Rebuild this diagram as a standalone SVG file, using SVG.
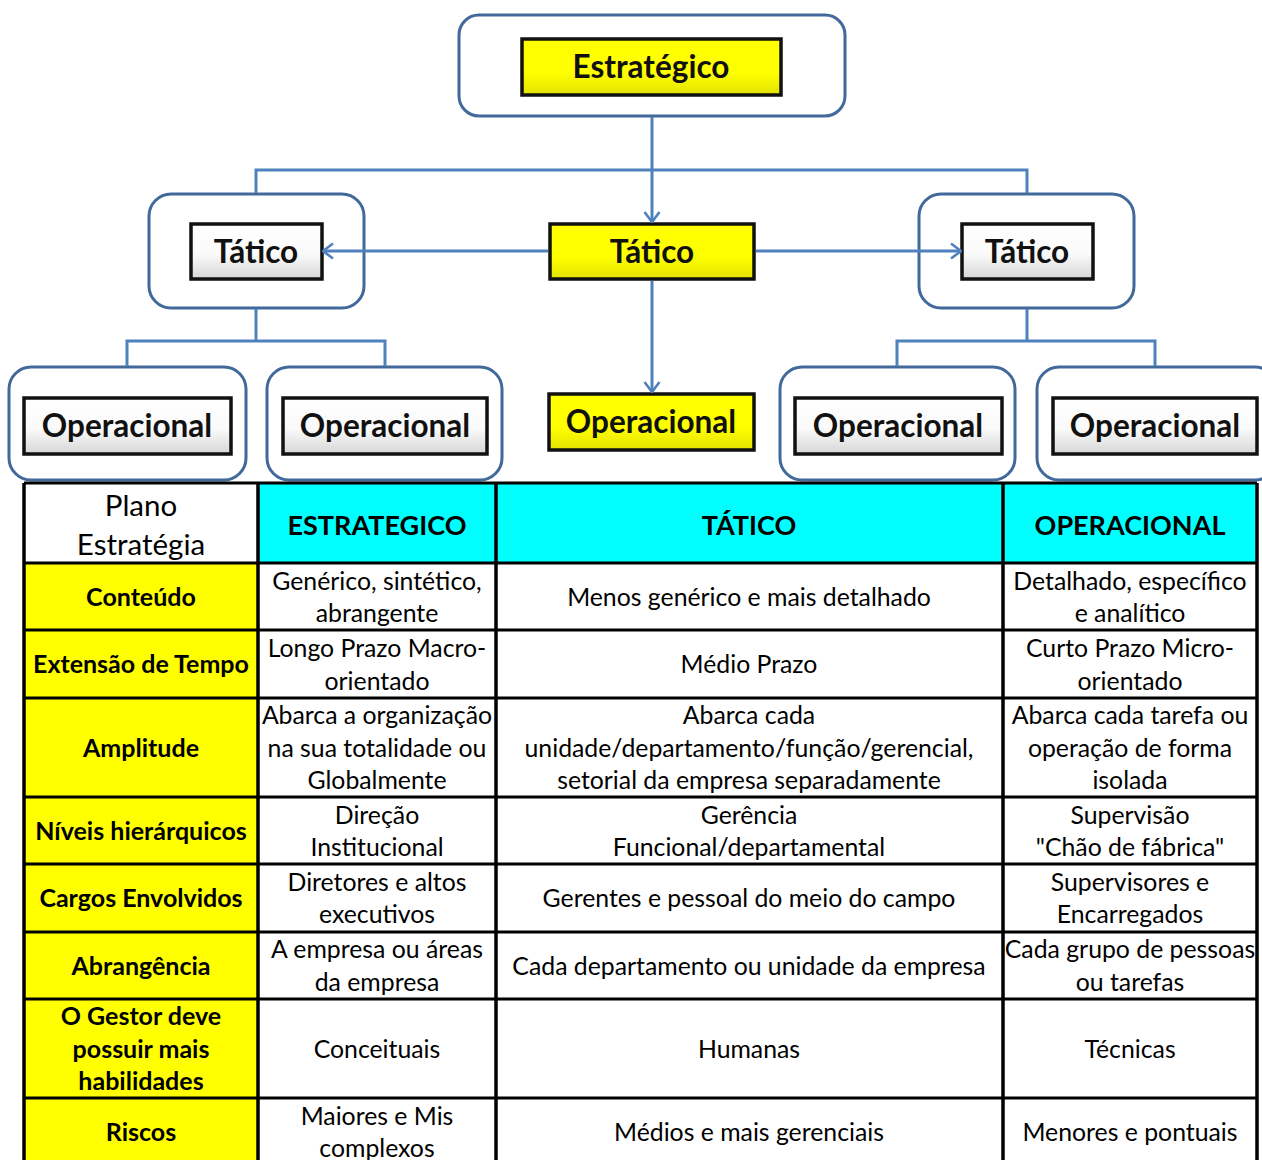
<svg xmlns="http://www.w3.org/2000/svg" width="1262" height="1160" viewBox="0 0 1262 1160">
  <defs>
    <style>
      .outer{fill:#fff;stroke:#41699b;stroke-width:3}
      .box{stroke:#111;stroke-width:3.5}
      .wbox{fill:url(#gw)}
      .ybox{fill:url(#gy)}
      .lbl{font-family:Lato,"Open Sans",sans-serif;font-weight:700;font-size:31.5px;fill:#111;text-anchor:middle}
      .conn{fill:none;stroke:#4f81bd;stroke-width:3}
      .t{font-family:Lato,"Open Sans",sans-serif;font-size:24.8px;fill:#000;text-anchor:middle}
      .b{font-weight:700;font-size:25px}
      .h{font-size:27px;font-weight:700}
      .p{font-size:29.5px}
      .grid{stroke:#000;stroke-width:3;fill:none}
      .vgrid{stroke:#000;stroke-width:3.5;fill:none}
    </style>
    <linearGradient id="gw" x1="0" y1="0" x2="0" y2="1">
      <stop offset="0" stop-color="#ffffff"/>
      <stop offset="0.55" stop-color="#fafafa"/>
      <stop offset="1" stop-color="#d6d6d6"/>
    </linearGradient>
    <linearGradient id="gy" x1="0" y1="0" x2="0" y2="1">
      <stop offset="0" stop-color="#ffff00"/>
      <stop offset="0.6" stop-color="#ffff00"/>
      <stop offset="1" stop-color="#e2e200"/>
    </linearGradient>
    <marker id="ah" viewBox="0 0 12 18" refX="11" refY="9" markerWidth="12" markerHeight="18" markerUnits="userSpaceOnUse" orient="auto">
      <path d="M1,1.5 L11,9 L1,16.5" fill="none" stroke="#4f81bd" stroke-width="2.6"/>
    </marker>
  </defs>

  <!-- strategic level -->
  <g id="estrategico">
    <rect class="outer" x="459" y="15" width="386" height="101" rx="20"/>
    <rect class="box ybox" x="522" y="39" width="259" height="56"/>
    <text class="lbl" x="651" y="78">Estratégico</text>
  </g>

  <!-- tactical level -->
  <g id="tatico-esq">
    <rect class="outer" x="149" y="194" width="215" height="114" rx="22"/>
    <rect class="box wbox" x="191" y="224" width="131" height="55"/>
    <text class="lbl" x="256" y="263">Tático</text>
  </g>
  <g id="tatico-centro">
    <rect class="box ybox" x="550" y="224" width="204" height="55"/>
    <text class="lbl" x="652" y="263">Tático</text>
  </g>
  <g id="tatico-dir">
    <rect class="outer" x="919" y="194" width="215" height="114" rx="22"/>
    <rect class="box wbox" x="962" y="224" width="131" height="55"/>
    <text class="lbl" x="1027" y="263">Tático</text>
  </g>

  <!-- operational level -->
  <g id="operacional-1">
    <rect class="outer" x="9" y="367" width="237" height="113" rx="22"/>
    <rect class="box wbox" x="24" y="398" width="207" height="56"/>
    <text class="lbl" x="127" y="437">Operacional</text>
  </g>
  <g id="operacional-2">
    <rect class="outer" x="267" y="367" width="235" height="113" rx="22"/>
    <rect class="box wbox" x="283" y="398" width="204" height="56"/>
    <text class="lbl" x="385" y="437">Operacional</text>
  </g>
  <g id="operacional-centro">
    <rect class="box ybox" x="549" y="394" width="205" height="56"/>
    <text class="lbl" x="651" y="433">Operacional</text>
  </g>
  <g id="operacional-3">
    <rect class="outer" x="780" y="367" width="235" height="113" rx="22"/>
    <rect class="box wbox" x="795" y="398" width="207" height="56"/>
    <text class="lbl" x="898" y="437">Operacional</text>
  </g>
  <g id="operacional-4">
    <rect class="outer" x="1037" y="367" width="240" height="113" rx="22"/>
    <rect class="box wbox" x="1053" y="398" width="204" height="56"/>
    <text class="lbl" x="1155" y="437">Operacional</text>
  </g>

  <!-- connectors (drawn over the rounded containers so the arrows reach the inner boxes) -->
  <g id="connectors">
    <path class="conn" d="M652,117 V222" marker-end="url(#ah)"/>
    <path class="conn" d="M256,193 V170 H1027 V193"/>
    <path class="conn" d="M548,251 H323" marker-end="url(#ah)"/>
    <path class="conn" d="M756,251 H961" marker-end="url(#ah)"/>
    <path class="conn" d="M652,281 V392" marker-end="url(#ah)"/>
    <path class="conn" d="M256,309 V341"/>
    <path class="conn" d="M127,366 V341 H385 V366"/>
    <path class="conn" d="M1027,309 V341"/>
    <path class="conn" d="M897,366 V341 H1155 V366"/>
  </g>

  <!-- comparison table -->
  <g id="tabela">
    <rect x="24" y="483" width="234" height="80" fill="#fff"/>
    <rect x="258" y="483" width="999" height="80" fill="#00ffff"/>
    <rect x="24" y="563" width="234" height="600" fill="#ffff00"/>
    <rect x="258" y="563" width="999" height="600" fill="#fff"/>

    <path class="grid" d="M24,483 H1257 M24,563 H1257 M24,630 H1257 M24,698 H1257 M24,797 H1257 M24,864 H1257 M24,932 H1257 M24,999 H1257 M24,1098 H1257"/>
    <path class="vgrid" d="M24,483 V1160 M258,483 V1160 M496,483 V1160 M1003,483 V1160 M1257,483 V1160"/>

    <!-- header -->
    <text class="t p" x="141" y="516">Plano</text>
    <text class="t p" x="141" y="555">Estratégia</text>
    <text class="t h" x="377" y="535">ESTRATEGICO</text>
    <text class="t h" x="749" y="535">TÁTICO</text>
    <text class="t h" x="1130" y="535">OPERACIONAL</text>

    <!-- Conteúdo -->
    <text class="t b" x="141" y="606">Conteúdo</text>
    <text class="t" x="377" y="590">Genérico, sintético,</text>
    <text class="t" x="377" y="622">abrangente</text>
    <text class="t" x="749" y="606">Menos genérico e mais detalhado</text>
    <text class="t" x="1130" y="590">Detalhado, específico</text>
    <text class="t" x="1130" y="622">e analítico</text>

    <!-- Extensão de Tempo -->
    <text class="t b" x="141" y="673">Extensão de Tempo</text>
    <text class="t" x="377" y="657">Longo Prazo Macro-</text>
    <text class="t" x="377" y="690">orientado</text>
    <text class="t" x="749" y="673">Médio Prazo</text>
    <text class="t" x="1130" y="657">Curto Prazo Micro-</text>
    <text class="t" x="1130" y="690">orientado</text>

    <!-- Amplitude -->
    <text class="t b" x="141" y="757">Amplitude</text>
    <text class="t" x="377" y="724">Abarca a organização</text>
    <text class="t" x="377" y="757">na sua totalidade ou</text>
    <text class="t" x="377" y="789">Globalmente</text>
    <text class="t" x="749" y="724">Abarca cada</text>
    <text class="t" x="749" y="757">unidade/departamento/função/gerencial,</text>
    <text class="t" x="749" y="789">setorial da empresa separadamente</text>
    <text class="t" x="1130" y="724">Abarca cada tarefa ou</text>
    <text class="t" x="1130" y="757">operação de forma</text>
    <text class="t" x="1130" y="789">isolada</text>

    <!-- Níveis hierárquicos -->
    <text class="t b" x="141" y="840">Níveis hierárquicos</text>
    <text class="t" x="377" y="824">Direção</text>
    <text class="t" x="377" y="856">Institucional</text>
    <text class="t" x="749" y="824">Gerência</text>
    <text class="t" x="749" y="856">Funcional/departamental</text>
    <text class="t" x="1130" y="824">Supervisão</text>
    <text class="t" x="1130" y="856">"Chão de fábrica"</text>

    <!-- Cargos Envolvidos -->
    <text class="t b" x="141" y="907">Cargos Envolvidos</text>
    <text class="t" x="377" y="891">Diretores e altos</text>
    <text class="t" x="377" y="923">executivos</text>
    <text class="t" x="749" y="907">Gerentes e pessoal do meio do campo</text>
    <text class="t" x="1130" y="891">Supervisores e</text>
    <text class="t" x="1130" y="923">Encarregados</text>

    <!-- Abrangência -->
    <text class="t b" x="141" y="975">Abrangência</text>
    <text class="t" x="377" y="958">A empresa ou áreas</text>
    <text class="t" x="377" y="991">da empresa</text>
    <text class="t" x="749" y="975">Cada departamento ou unidade da empresa</text>
    <text class="t" x="1130" y="958">Cada grupo de pessoas</text>
    <text class="t" x="1130" y="991">ou tarefas</text>

    <!-- Habilidades do gestor -->
    <text class="t b" x="141" y="1025">O Gestor deve</text>
    <text class="t b" x="141" y="1058">possuir mais</text>
    <text class="t b" x="141" y="1090">habilidades</text>
    <text class="t" x="377" y="1058">Conceituais</text>
    <text class="t" x="749" y="1058">Humanas</text>
    <text class="t" x="1130" y="1058">Técnicas</text>

    <!-- Riscos -->
    <text class="t b" x="141" y="1141">Riscos</text>
    <text class="t" x="377" y="1125">Maiores e Mis</text>
    <text class="t" x="377" y="1157">complexos</text>
    <text class="t" x="749" y="1141">Médios e mais gerenciais</text>
    <text class="t" x="1130" y="1141">Menores e pontuais</text>
  </g>
</svg>
